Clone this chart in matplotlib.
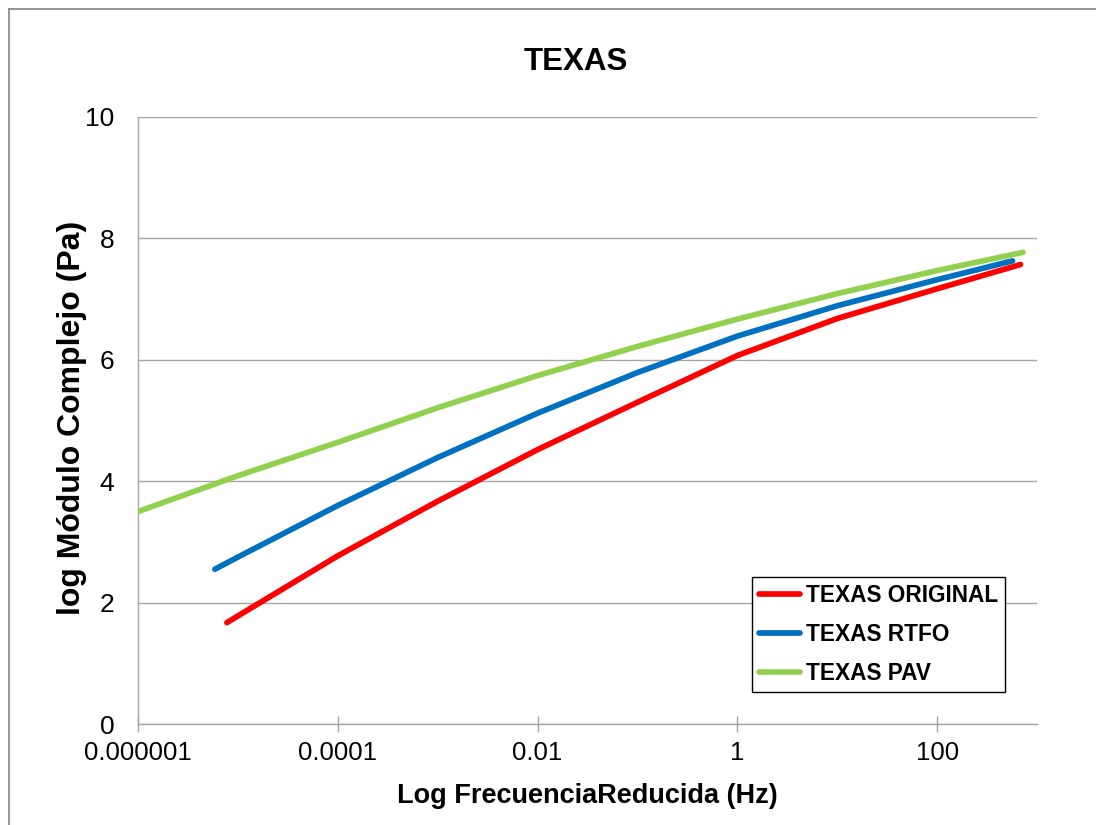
import matplotlib
matplotlib.use("Agg")
import matplotlib.pyplot as plt
from matplotlib.lines import Line2D
from matplotlib.ticker import FixedLocator, FixedFormatter, NullLocator

plt.rcParams['font.family'] = ['Liberation Sans', 'DejaVu Sans']

# log10 of reduced frequency (Hz) and log of complex modulus (Pa)
orig_logf = [-5.11, -5.0, -4.0, -3.0, -2.0, -1.0, 0.0, 1.0, 2.0, 2.835]
orig_logg = [1.67, 1.78, 2.77, 3.67, 4.52, 5.30, 6.07, 6.68, 7.17, 7.57]

rtfo_logf = [-5.23, -5.0, -4.0, -3.0, -2.0, -1.0, 0.0, 1.0, 2.0, 2.755]
rtfo_logg = [2.55, 2.75, 3.60, 4.39, 5.12, 5.79, 6.39, 6.89, 7.32, 7.63]

pav_logf = [-6.0, -5.0, -4.0, -3.0, -2.0, -1.0, 0.0, 1.0, 2.0, 2.86]
pav_logg = [3.50, 4.09, 4.64, 5.21, 5.74, 6.22, 6.67, 7.09, 7.47, 7.77]

series_names = ["TEXAS ORIGINAL", "TEXAS RTFO", "TEXAS PAV"]
series_colors = ["#FF0000", "#0070C0", "#92D050"]

x_tick_values = [1e-6, 1e-4, 1e-2, 1, 100]
x_tick_labels = ["0.000001", "0.0001", "0.01", "1", "100"]
y_tick_values = [0, 2, 4, 6, 8, 10]

W, H = 1096, 825
fig = plt.figure(figsize=(W / 100, H / 100), dpi=100)
ax = fig.add_axes([138 / W, 1 - 724 / H, (1037 - 138) / W, (724 - 117) / H])

grid_c = "#A6A6A6"
for xs, ys, name, col in zip([orig_logf, rtfo_logf, pav_logf],
                              [orig_logg, rtfo_logg, pav_logg],
                              series_names, series_colors):
    ax.plot([10 ** v for v in xs], ys, color=col, lw=4.1,
            solid_capstyle="round", solid_joinstyle="round", label=name,
            clip_on=True, zorder=3)

ax.set_xscale("log")
ax.set_xlim(1e-6, 1e3)
ax.set_ylim(0, 10)

ax.xaxis.set_major_locator(FixedLocator(x_tick_values))
ax.xaxis.set_major_formatter(FixedFormatter(x_tick_labels))
ax.xaxis.set_minor_locator(NullLocator())
ax.set_yticks(y_tick_values)
ax.set_yticklabels([str(v) for v in y_tick_values])

ax.tick_params(axis="x", direction="inout", length=12, width=1, color=grid_c,
               labelsize=18.5, pad=6)
ax.tick_params(axis="y", length=0, labelsize=19, pad=17)

ax.grid(axis="y", color=grid_c, lw=1)
ax.set_axisbelow(True)
for s in ("top", "right"):
    ax.spines[s].set_visible(False)
for s in ("left", "bottom"):
    ax.spines[s].set_color(grid_c)
    ax.spines[s].set_linewidth(1)

ax.set_xlabel("Log FrecuenciaReducida (Hz)", fontsize=19.5, fontweight="bold",
              labelpad=13)
fig.text(72 / W, 1 - 418 / H, "log Módulo Complejo (Pa)", rotation=90,
         ha="center", va="center", fontsize=23, fontweight="bold")

fig.text(576 / W, 1 - 62 / H, "TEXAS", ha="center", va="center",
         fontsize=22.5, fontweight="bold")

leg = ax.legend(loc="upper left", bbox_to_anchor=((752 - 138) / (1037 - 138),
                                                  (724 - 577) / (724 - 117)),
                frameon=True, fancybox=False, framealpha=1,
                prop={"size": 16.3, "weight": "bold"},
                handlelength=1.8, handletextpad=0.27, borderpad=0.3,
                labelspacing=0.72, borderaxespad=0)
leg.get_frame().set_edgecolor("#000000")
leg.get_frame().set_linewidth(1)

# outer chart-area border (top and left edges)
border_c = "#8C8C8C"
fig.add_artist(Line2D([9 / W, 1.0], [1 - 9 / H, 1 - 9 / H], color=border_c,
                      lw=1.3, transform=fig.transFigure))
fig.add_artist(Line2D([9 / W, 9 / W], [0.0, 1 - 9 / H], color=border_c,
                      lw=1.3, transform=fig.transFigure))

fig.savefig("out.png", dpi=100, facecolor="white")
